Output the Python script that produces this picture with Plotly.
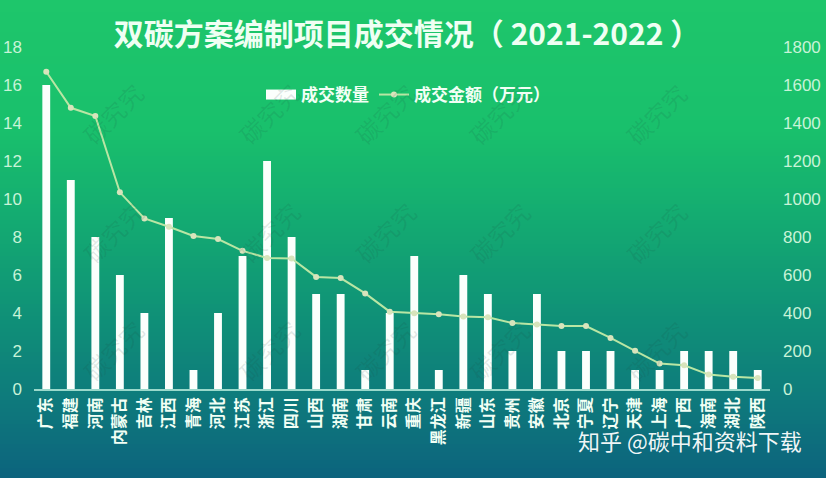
import plotly.graph_objects as go

provinces = ["广东", "福建", "河南", "内蒙古", "吉林", "江西", "青海", "河北", "江苏", "浙江",
             "四川", "山西", "湖南", "甘肃", "云南", "重庆", "黑龙江", "新疆", "山东", "贵州",
             "安徽", "北京", "宁夏", "辽宁", "天津", "上海", "广西", "海南", "湖北", "陕西"]
deal_count = [16, 11, 8, 6, 4, 9, 1, 4, 7, 12, 8, 5, 5, 1, 4, 7, 1, 6, 5, 2, 5, 2, 2, 2, 1, 1, 2, 2, 2, 1]
deal_amount = [1670, 1480, 1437, 1035, 898, 854, 805, 789, 727, 690, 687, 590, 584, 503, 407, 399,
               394, 382, 377, 347, 340, 331, 331, 269, 201, 134, 125, 76, 65, 58]
left_ticks = [0, 2, 4, 6, 8, 10, 12, 14, 16, 18]
right_ticks = [0, 200, 400, 600, 800, 1000, 1200, 1400, 1600, 1800]

W, H = 826, 478
L, R, T, B = 34, 56, 47, 89
pw, ph = W - L - R, H - T - B

def px_to_paper_y(y):
    return (H - B - y) / ph

def px_to_paper_x(x):
    return (x - L) / pw

stops = [(0, (30, 198, 107)), (130, (25, 192, 108)), (230, (19, 168, 114)),
         (330, (15, 141, 120)), (400, (14, 122, 124)), (478, (12, 99, 125))]

def col_at(y):
    for (y0, c0), (y1, c1) in zip(stops[:-1], stops[1:]):
        if y0 <= y <= y1:
            t = (y - y0) / (y1 - y0)
            return "rgb(%d,%d,%d)" % tuple(round(a + (b - a) * t) for a, b in zip(c0, c1))
    return "rgb(%d,%d,%d)" % stops[-1][1]

shapes = []
step = 4
for y in range(0, H, step):
    shapes.append(dict(type="rect", xref="paper", yref="paper", layer="below",
                       x0=px_to_paper_x(-4), x1=px_to_paper_x(W + 4),
                       y0=px_to_paper_y(min(y + step + 0.5, H + 4)), y1=px_to_paper_y(y if y > 0 else -4),
                       fillcolor=col_at(y + step / 2), line=dict(width=0)))

fig = go.Figure()
fig.add_trace(go.Bar(x=provinces, y=deal_count, name="成交数量", showlegend=False,
                     marker=dict(color="#fbfffc", line=dict(width=0)), yaxis="y"))
# legend entry for the bars (wide rectangular swatch like the reference)
fig.add_trace(go.Scatter(x=[None], y=[None], name="成交数量", mode="lines",
                         line=dict(color="#fbfffc", width=10), yaxis="y"))
fig.add_trace(go.Scatter(x=provinces, y=deal_amount, name="成交金额（万元）", yaxis="y2",
                         mode="lines+markers",
                         line=dict(color="#b9e6a4", width=2),
                         marker=dict(color="#d8e4bc", size=6)))

annotations = []
wm_x = [72, 228, 385, 540, 697]
wm_y = [73, 232, 391]
for yy in wm_y:
    for xx in wm_x:
        annotations.append(dict(text="碳究究", x=px_to_paper_x(xx), y=px_to_paper_y(yy),
                                xref="paper", yref="paper", showarrow=False, textangle=-45,
                                font=dict(size=24, color="rgba(30,70,60,0.12)",
                                          family="Noto Sans CJK SC")))
annotations.append(dict(text="知乎 @碳中和资料下载", x=px_to_paper_x(804), y=px_to_paper_y(440),
                        xref="paper", yref="paper", showarrow=False, xanchor="right", yanchor="middle",
                        font=dict(size=22, color="rgba(255,255,255,0.95)", family="Noto Sans CJK SC")))

fig.update_layout(
    width=W, height=H,
    margin=dict(l=L, r=R, t=T, b=B, autoexpand=False),
    paper_bgcolor="rgba(0,0,0,0)", plot_bgcolor="rgba(0,0,0,0)",
    shapes=shapes, annotations=annotations,
    bargap=0.68,
    title=dict(text="双碳方案编制项目成交情况（ 2021-2022 ）", x=407 / W,
               xanchor="center", y=1 - 34 / H, yanchor="middle", automargin=False,
               font=dict(size=30, color="#effff3", family="Noto Sans CJK SC", weight="bold")),
    legend=dict(orientation="h", x=px_to_paper_x(408), xanchor="center",
                y=px_to_paper_y(95), yanchor="middle", bgcolor="rgba(0,0,0,0)",
                font=dict(size=17, color="#f2fff5", family="Noto Sans CJK SC", weight="bold"),
                itemwidth=30, tracegroupgap=0),
    xaxis=dict(tickangle=-90, showgrid=False, showline=True, linecolor="#9ad9cb", linewidth=1.5,
               range=[-0.5, len(provinces) - 0.5],
               tickfont=dict(size=16, color="#f2fff5", family="Noto Sans CJK SC", weight="bold"),
               ticks="", zeroline=False, automargin=False),
    yaxis=dict(range=[0, 18], tickvals=left_ticks, showgrid=False, zeroline=False,
               showline=False, ticks="", ticklabelstandoff=11, automargin=False,
               tickfont=dict(size=17, color="#c8f3d8", family="Liberation Sans")),
    yaxis2=dict(range=[0, 1800], tickvals=right_ticks, overlaying="y", side="right",
                showgrid=False, zeroline=False, showline=False, ticks="", ticklabelstandoff=12,
                automargin=False,
                tickfont=dict(size=17, color="#c8f3d8", family="Liberation Sans")),
    showlegend=True,
)
fig.write_html("out.html", config={"displayModeBar": False},
               post_script="document.body.style.margin='0';document.body.style.overflow='hidden';")
